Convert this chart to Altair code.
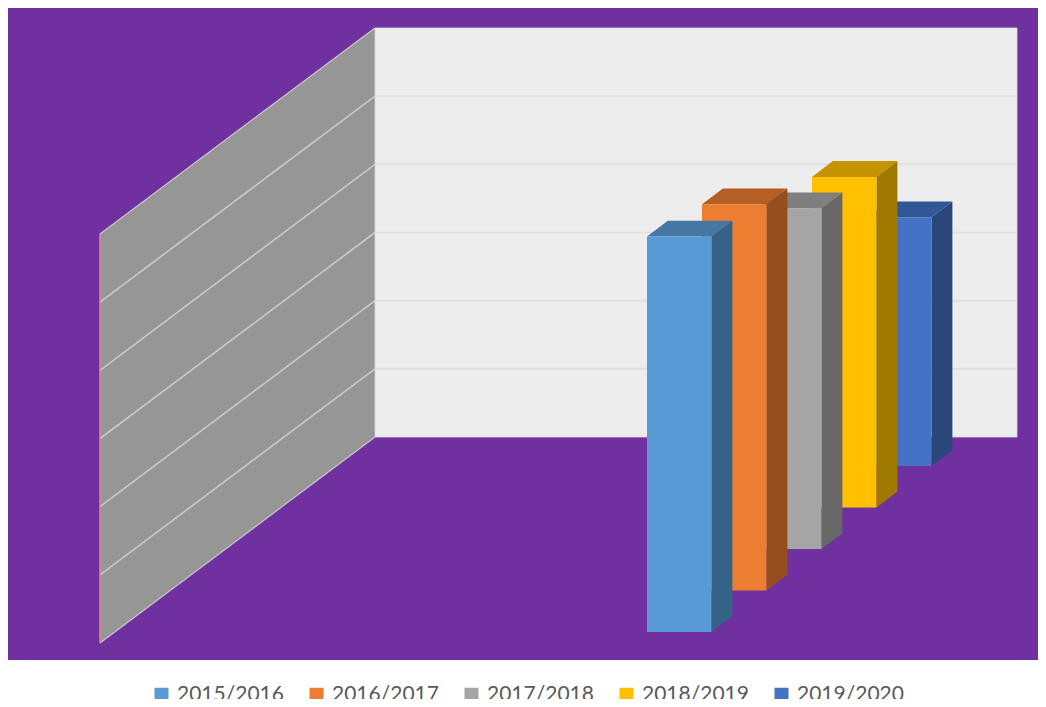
import altair as alt
import pandas as pd

series = ["2015/2016", "2016/2017", "2017/2018", "2018/2019", "2019/2020"]
values = [116, 113.3, 100, 97, 73]
ticks = [0, 20, 40, 60, 80, 100, 120]
front_colors = ["#5B9BD5", "#ED7D31", "#A5A5A5", "#FFC000", "#4472C4"]
top_colors = ["#4678A5", "#B65F25", "#7F7F7F", "#C49300", "#335796"]
side_colors = ["#376287", "#954F1E", "#686868", "#A07900", "#2A4779"]

PURPLE = "#7030A0"
W, H = 1030, 691
PX_PER_UNIT = 68.17 / 20
Y_ZERO = 635.0                       # chart pixel of value 0 on the front edge
ymin = -(H - Y_ZERO) / PX_PER_UNIT
ymax = Y_ZERO / PX_PER_UNIT

# oblique projection: one depth step moves right and up the value scale
STEP_X = 55.0
STEP_V = 41.5 / PX_PER_UNIT
WALL_DX = 275.0
WALL_DV = 206 / PX_PER_UNIT
FLOOR_X0 = 92.0
FLOOR_W = 642.0
BAR_ALONG = 532.4
BAR_W = 64.5
BAR_OFFSET = 0.265
BAR_DEPTH = 0.38
MAX_V = 120

xs = alt.Scale(domain=[0, W], range=[0, W], nice=False, zero=False)
ys = alt.Scale(domain=[ymin, ymax], range=[H, 0], nice=False, zero=False)


def X(f):
    return alt.X(f, type="quantitative", scale=xs, axis=None)


def Y(f, axis=None):
    return alt.Y(f, type="quantitative", scale=ys, axis=axis, stack=None)


back = pd.DataFrame({"x": [0], "x2": [W], "y": [ymin + (H - 652) / PX_PER_UNIT], "y2": [ymax]})
panel = (
    alt.Chart(back)
    .mark_rect(color=PURPLE)
    .encode(
        x=X("x"),
        x2="x2",
        y=Y(
            "y",
            axis=alt.Axis(
                values=ticks,
                title=None,
                grid=False,
                domain=False,
                ticks=False,
                position=71,
                offset=0,
                labelPadding=0,
                labelFont="Lato",
                labelFontSize=20,
                labelColor="#DDD3E8",
                labelOverlap=False,
                format="d",
                zindex=1,
            ),
        ),
        y2="y2",
    )
)

wall_left_x = FLOOR_X0
wall_back_x = FLOOR_X0 + WALL_DX

left_wall = pd.DataFrame(
    {
        "x": [wall_left_x, wall_back_x],
        "y": [MAX_V, MAX_V + WALL_DV],
        "y2": [0, WALL_DV],
    }
)
left = (
    alt.Chart(left_wall)
    .mark_area(color="#969696", opacity=1, line=alt.LineConfig(color="#C8C8C8", strokeWidth=1.2))
    .encode(x=X("x"), y=Y("y"), y2="y2")
)
left_bottom = (
    alt.Chart(left_wall)
    .mark_line(color="#C8C8C8", strokeWidth=1.2)
    .encode(x=X("x"), y=Y("y2"))
)
left_edge = (
    alt.Chart(pd.DataFrame({"x": [wall_left_x], "y": [0], "y2": [MAX_V]}))
    .mark_rule(color="#D58E8E", strokeWidth=1.5)
    .encode(x=X("x"), y=Y("y"), y2="y2")
)

back_wall = pd.DataFrame(
    {"x": [wall_back_x], "x2": [wall_back_x + FLOOR_W], "y": [WALL_DV], "y2": [MAX_V + WALL_DV]}
)
backw = (
    alt.Chart(back_wall)
    .mark_rect(color="#EDEDED", stroke="#D9D9D9", strokeWidth=0.8)
    .encode(x=X("x"), x2="x2", y=Y("y"), y2="y2")
)

grid_left_rows, grid_back_rows = [], []
for t in ticks[1:-1]:
    grid_left_rows += [
        {"t": t, "x": wall_left_x, "y": t},
        {"t": t, "x": wall_back_x, "y": t + WALL_DV},
    ]
    grid_back_rows += [
        {"t": t, "x": wall_back_x, "x2": wall_back_x + FLOOR_W, "y": t + WALL_DV},
    ]
gl = (
    alt.Chart(pd.DataFrame(grid_left_rows))
    .mark_line(color="#C9C9C9", strokeWidth=1.6)
    .encode(x=X("x"), y=Y("y"), detail="t:N")
)
gb = (
    alt.Chart(pd.DataFrame(grid_back_rows))
    .mark_rule(color="#E1E1E1", strokeWidth=2)
    .encode(x=X("x"), x2="x2", y=Y("y"))
)

color = alt.Color(
    "series:N",
    scale=alt.Scale(domain=series, range=front_colors),
    legend=alt.Legend(
        title=None,
        orient="none",
        direction="horizontal",
        columns=5,
        legendX=143,
        legendY=676,
        symbolType="square",
        symbolSize=196,
        symbolStrokeWidth=0,
        symbolOpacity=1,
        labelFont="Lato",
        labelFontSize=21,
        labelColor="#595959",
        labelOffset=5,
        columnPadding=22,
        padding=0,
    ),
)

bars = []
for i in reversed(range(len(series))):
    d0 = BAR_OFFSET + i
    d1 = d0 + BAR_DEPTH
    L0 = FLOOR_X0 + BAR_ALONG + d0 * STEP_X
    R0 = L0 + BAR_W
    L1 = FLOOR_X0 + BAR_ALONG + d1 * STEP_X
    R1 = L1 + BAR_W
    v = values[i]
    top_df = pd.DataFrame(
        {"y": [v + d0 * STEP_V, v + d1 * STEP_V], "x": [L0, L1], "x2": [R0, R1]}
    )
    side_df = pd.DataFrame(
        {"x": [R0, R1], "y": [v + d0 * STEP_V, v + d1 * STEP_V], "y2": [d0 * STEP_V, d1 * STEP_V]}
    )
    front_df = pd.DataFrame(
        {"series": [series[i]], "x": [L0], "x2": [R0], "y": [d0 * STEP_V], "y2": [v + d0 * STEP_V]}
    )
    bars.append(
        alt.Chart(top_df)
        .mark_area(color=top_colors[i], orient="horizontal", opacity=1)
        .encode(y=Y("y"), x=X("x"), x2="x2")
    )
    bars.append(
        alt.Chart(side_df)
        .mark_area(color=side_colors[i], opacity=1)
        .encode(x=X("x"), y=Y("y"), y2="y2")
    )
    bars.append(
        alt.Chart(front_df)
        .mark_rect()
        .encode(x=X("x"), x2="x2", y=Y("y"), y2="y2", color=color)
    )

chart = (
    alt.layer(panel, left, left_bottom, gl, left_edge, backw, gb, *bars)
    .properties(
        width=W,
        height=H,
        padding=0,
        background="white",
        autosize=alt.AutoSizeParams(type="none"),
    )
    .configure_view(stroke=None)
)
chart.save("out.html", embed_options={"renderer": "svg", "actions": False})
